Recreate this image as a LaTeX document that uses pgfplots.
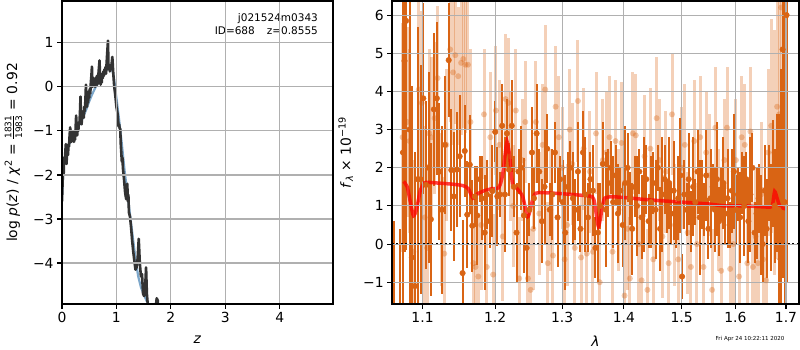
\documentclass[border=0pt]{standalone}
\usepackage{fontspec}
\setmainfont{DejaVu Sans}
\usepackage{pgfplots}
\pgfplotsset{compat=1.18}
\usepackage{pgfplotstable}
\definecolor{dorange}{RGB}{217,100,20}
\definecolor{gridgray}{RGB}{176,176,176}
\definecolor{steel}{RGB}{70,130,180}
\definecolor{dgray}{RGB}{51,51,51}

\pgfplotstableread{
x y e
1.0625 -2.0 2.6
1.0705 -2.6 3.0
1.0745 2.4 6.0
1.0765 4.8 5.0
1.0785 5.85 6.0
1.0830 3.0 5.5
1.0860 -0.35 4.5
1.0900 -1.1 3.5
1.0935 1.7 4.0
1.0975 1.7 3.0
1.1010 3.82 2.5
1.1045 1.55 2.2
1.1080 2.0 2.5
1.1110 0.65 2.0
1.1150 3.53 2.0
1.1190 3.82 2.0
1.1225 1.9 1.8
1.1260 0.9 2.2
1.1300 2.6 1.8
1.1350 4.82 1.5
1.1385 1.94 1.6
1.1420 1.25 1.7
1.1460 1.95 1.5
1.1500 2.3 1.6
1.1540 -0.76 1.4
1.1570 2.44 1.2
1.1605 0.77 1.4
1.1640 2.08 1.3
1.1675 0.48 1.2
1.1710 1.25 0.8
1.1745 0.75 1.3
1.1780 1.7 0.6
1.1810 1.2 1.1
1.1850 0.3 1.5
1.1880 1.3 0.9
1.1920 0.6 0.7
1.1960 1.39 1.2
1.2000 2.94 0.8
1.2030 1.25 1.3
1.2070 1.3 0.6
1.2100 3.1 1.1
1.2140 1.3 1.5
1.2170 2.9 0.9
1.2200 1.95 0.7
1.2240 3.1 1.2
1.2270 1.5 0.8
1.2310 0.3 1.3
1.2340 1.9 0.6
1.2380 2.0 1.1
1.2420 0.75 1.5
1.2460 -0.1 0.9
1.2500 0.9 0.7
1.2540 2.4 1.2
1.2570 1.2 0.8
1.2610 2.9 1.3
1.2650 1.9 0.6
1.2690 0.6 1.1
1.2730 1.5 1.5
1.2770 2.5 0.9
1.2810 0.9 0.7
1.2850 1.3 1.2
1.2890 2.4 0.8
1.2930 0.7 1.3
1.2970 1.7 0.6
1.3010 1.1 1.1
1.3050 0.3 1.5
1.3090 1.5 0.9
1.3130 2.0 0.7
1.3170 1.2 1.2
1.3210 0.9 0.8
1.3250 1.9 1.3
1.3290 0.4 0.6
1.3330 2.4 1.1
1.3370 1.3 1.5
1.3410 0.7 0.9
1.3450 1.7 0.7
1.3490 1.4 1.2
1.3530 -0.1 0.8
1.3570 0.3 1.3
1.3610 1.0 0.6
1.3650 2.1 1.1
1.3700 0.9 1.5
1.3740 1.6 0.9
1.3780 2.0 0.7
1.3820 1.1 1.2
1.3860 1.8 0.8
1.3900 0.8 1.3
1.3940 1.4 0.6
1.3980 0.5 1.1
1.4020 1.6 1.5
1.4060 2.0 0.9
1.4100 1.2 0.7
1.4140 0.4 1.2
1.4180 1.5 0.8
1.4220 1.0 1.3
1.4260 1.9 0.6
1.4300 0.7 1.1
1.4340 1.3 1.5
1.4380 1.7 0.9
1.4420 0.6 0.7
1.4460 1.1 1.2
1.4500 1.6 0.8
1.4540 0.9 1.3
1.4580 2.0 0.6
1.4620 0.4 1.1
1.4660 1.3 1.5
1.4700 1.7 0.9
1.4740 1.0 0.7
1.4780 1.6 1.2
1.4820 0.8 0.8
1.4860 1.4 1.3
1.4900 0.5 0.6
1.4940 1.2 1.1
1.4980 1.8 1.5
1.5010 -0.85 0.6
1.5050 1.3 0.9
1.5090 0.9 0.7
1.5130 1.7 1.2
1.5170 0.6 0.8
1.5210 1.5 1.3
1.5250 1.1 0.6
1.5290 1.9 1.1
1.5330 0.7 1.5
1.5370 1.3 0.9
1.5410 0.9 0.7
1.5450 1.8 1.2
1.5490 0.4 0.8
1.5530 1.2 1.3
1.5570 1.5 0.6
1.5610 0.9 1.1
1.5650 1.7 1.5
1.5690 0.6 0.9
1.5730 1.3 0.7
1.5770 1.6 1.2
1.5810 0.8 0.8
1.5850 1.2 1.3
1.5890 0.5 0.6
1.5930 1.4 1.1
1.5970 1.9 1.5
1.6010 0.9 0.9
1.6050 1.3 0.7
1.6090 0.7 1.2
1.6130 1.6 0.8
1.6170 1.0 1.3
1.6210 1.7 0.7
1.6250 0.6 1.1
1.6290 1.3 1.5
1.6330 2.0 0.9
1.6370 0.3 0.8
1.6410 0.8 1.2
1.6450 1.2 0.9
1.6490 0.5 1.3
1.6530 0.0 1.0
1.6570 1.4 1.2
1.6610 0.4 1.3
1.6650 1.6 1.0
1.6690 0.7 1.4
1.6730 1.85 1.4
1.6770 1.0 1.5
1.6810 1.6 1.8
1.6850 0.9 2.5
1.6890 -0.4 5.0
1.6930 5.1 6.0
1.6970 1.1 6.0
1.7010 6.0 7.0
}\darktab

\pgfplotstableread{
x y e
1.0740 2.8 3.0
1.0800 3.2 2.5
1.0830 2.7 2.4
1.0880 -0.2 2.4
1.0950 4.05 2.6
1.0990 3.7 2.4
1.1030 0.7 2.4
1.1060 -0.1 2.2
1.1090 2.9 2.2
1.1120 2.8 2.1
1.1160 3.3 2.0
1.1200 4.35 1.9
1.1250 0.9 2.0
1.1290 -0.25 2.0
1.1320 2.6 2.0
1.1370 5.1 1.9
1.1410 4.5 1.9
1.1440 4.95 1.8
1.1480 4.4 1.8
1.1520 4.75 1.9
1.1550 4.85 1.8
1.1580 4.7 1.8
1.1615 4.7 1.7
1.1650 3.2 1.9
1.1690 -0.5 1.8
1.1720 -0.6 1.7
1.1760 -0.85 1.6
1.1800 0.5 1.7
1.1840 3.4 1.7
1.1880 -0.6 1.7
1.1930 2.8 1.7
1.1970 -0.8 1.6
1.2010 3.5 1.7
1.2060 2.6 1.7
1.2110 0.2 1.7
1.2150 3.8 1.7
1.2190 3.7 1.7
1.2220 2.3 1.7
1.2260 1.0 1.6
1.2300 3.5 1.6
1.2350 -0.9 1.6
1.2400 2.2 1.6
1.2440 3.2 1.6
1.2480 -0.9 1.6
1.2520 -1.2 1.6
1.2560 0.4 1.6
1.2600 3.2 1.6
1.2650 0.8 1.6
1.2700 2.6 1.6
1.2740 4.05 1.7
1.2780 -0.5 1.6
1.2820 0.9 1.6
1.2860 -0.3 1.6
1.2900 3.6 1.6
1.2950 2.8 1.6
1.3000 2.0 1.6
1.3040 -0.4 1.6
1.3080 0.5 1.6
1.3120 3.0 1.6
1.3160 2.1 1.6
1.3200 -0.1 1.6
1.3250 3.75 1.6
1.3300 -0.35 1.6
1.3340 2.5 1.6
1.3390 -0.25 1.6
1.3440 1.9 1.6
1.3490 -0.2 1.6
1.3540 2.9 1.6
1.3600 -1.0 1.6
1.3650 2.2 1.6
1.3710 2.4 1.6
1.3760 2.8 1.6
1.3810 -0.2 1.6
1.3860 2.7 1.6
1.3910 0.9 1.6
1.3960 2.65 1.6
1.4010 -1.35 1.6
1.4060 0.4 1.6
1.4100 -0.9 1.6
1.4150 2.9 1.6
1.4200 2.85 1.6
1.4250 0.0 1.6
1.4300 -0.95 1.6
1.4350 2.3 1.6
1.4400 -1.2 1.6
1.4450 2.5 1.6
1.4500 -0.4 1.6
1.4560 3.3 1.6
1.4610 2.2 1.6
1.4660 0.2 1.6
1.4720 1.9 1.6
1.4770 -0.5 1.6
1.4830 3.4 1.6
1.4880 0.5 1.6
1.4940 -0.4 1.6
1.5000 2.0 1.6
1.5060 2.6 1.6
1.5110 0.3 1.6
1.5170 -0.6 1.6
1.5230 2.7 1.6
1.5280 0.0 1.6
1.5340 2.8 1.6
1.5400 -0.6 1.6
1.5450 2.4 1.6
1.5510 1.8 1.6
1.5560 -1.2 1.6
1.5620 3.05 1.6
1.5680 0.9 1.6
1.5730 -0.7 1.6
1.5790 2.2 1.6
1.5840 3.05 1.6
1.5900 -0.65 1.6
1.5960 0.0 1.6
1.6010 2.2 1.6
1.6070 -0.85 1.6
1.6120 2.8 1.6
1.6180 2.6 1.6
1.6230 -0.5 1.7
1.6290 2.95 1.7
1.6340 -0.6 1.7
1.6390 0.2 1.8
1.6440 -0.5 1.8
1.6500 1.3 1.9
1.6540 -0.4 1.9
1.6600 -0.95 2.0
1.6640 2.4 2.2
1.6700 3.1 2.8
1.6760 2.4 3.2
1.6820 3.6 4.0
1.6860 3.4 5.0
1.6900 6.2 6.0
}\lighttab

\pgfplotsset{
  myaxis/.style={
    scale only axis, anchor=south west, axis on top,
    grid=major,
    major grid style={gridgray, line width=1.1pt},
    axis line style={line width=1.1pt},
    tick align=outside, major tick length=4.9pt,
    tick style={black, line width=1.1pt},
    xtick pos=lower, ytick pos=left,
    minor tick num=0,
    every tick label/.append style={font=\fontsize{13.9}{16}\selectfont},
    label style={font=\fontsize{13.9}{16}\selectfont},
    xlabel shift=6pt,
  }
}

\begin{document}
\begin{tikzpicture}
\path[use as bounding box] (0pt,0pt) rectangle (800pt,350pt);

\begin{axis}[myaxis, at={(62pt,46pt)}, width=271pt, height=303pt,
  xmin=0, xmax=4.98, ymin=-4.93, ymax=1.95,
  xtick={0,1,2,3,4}, xticklabels={0,1,2,3,4},
  ytick={-4,-3,-2,-1,0,1}, yticklabels={−4,−3,−2,−1,0,1},
  xlabel={\textit{z}}, ylabel shift=4pt,
  ylabel={log \textit{p}(\textit{z}) / \textit{χ}\textsuperscript{2} = $\frac{\mbox{\fontsize{9}{9}\selectfont 1831}}{\mbox{\fontsize{9}{9}\selectfont 1983}}$ = 0.92},
]
\addplot[steel, line width=2.2pt, opacity=0.7] coordinates {
(0,-2.5) (0.02,-2.0) (0.04,-1.7) (0.06,-1.55) (0.1,-1.38) (0.15,-1.25) (0.2,-1.12)
(0.25,-1.0) (0.3,-0.9) (0.35,-0.8) (0.4,-0.65) (0.45,-0.5) (0.5,-0.33) (0.55,-0.18)
(0.6,-0.05) (0.65,0.07) (0.7,0.17) (0.75,0.27) (0.8,0.36) (0.85,0.44) (0.9,0.5)
(0.95,0.25) (1.0,-0.25) (1.05,-0.75) (1.1,-1.3) (1.15,-1.9) (1.2,-2.4) (1.25,-2.9)
(1.3,-3.4) (1.35,-3.9) (1.4,-4.3) (1.45,-4.55) (1.5,-4.7) (1.55,-4.85) (1.6,-4.95) (1.65,-5.1)
};
\addplot[dgray, line width=2.6pt, line join=round] coordinates {
(0,-2.6) (0.01,-2.2) (0.02,-1.9) (0.03,-2.0) (0.04,-1.6) (0.05,-1.75) (0.06,-1.5)
(0.07,-1.3) (0.075,-1.6) (0.085,-1.75) (0.09,-1.45) (0.1,-1.4) (0.11,-1.55) (0.12,-1.3)
(0.13,-1.35) (0.14,-1.1) (0.15,-0.92) (0.16,-1.2) (0.17,-1.25) (0.18,-1.0) (0.19,-1.15)
(0.2,-1.2) (0.21,-1.05) (0.22,-1.25) (0.23,-1.0) (0.24,-1.2) (0.25,-0.95) (0.26,-0.65)
(0.27,-1.0) (0.28,-1.1) (0.29,-0.9) (0.3,-1.0) (0.31,-0.8) (0.32,-0.85) (0.33,-0.6)
(0.34,-0.22) (0.35,-0.75) (0.36,-0.85) (0.37,-0.65) (0.38,-0.7) (0.39,-0.55) (0.4,-0.7)
(0.41,-0.45) (0.42,-0.55) (0.43,-0.3) (0.44,0.05) (0.45,-0.4) (0.46,-0.45) (0.47,-0.3)
(0.48,-0.35) (0.49,-0.1) (0.5,-0.25) (0.51,-0.05) (0.52,-0.15) (0.53,0.1) (0.54,0.25)
(0.55,0.46) (0.56,0.0) (0.57,0.05) (0.58,0.2) (0.59,0.05) (0.6,0.15) (0.61,0.0)
(0.62,0.2) (0.63,0.1) (0.64,0.25) (0.65,0.05) (0.66,0.15) (0.67,0.3) (0.68,0.45)
(0.69,0.6) (0.7,0.15) (0.71,0.05) (0.72,0.2) (0.73,0.1) (0.74,0.3) (0.75,0.2)
(0.76,0.35) (0.77,0.25) (0.78,0.4) (0.79,0.3) (0.8,0.45) (0.81,0.3) (0.82,0.55)
(0.83,0.75) (0.845,1.05) (0.855,0.4) (0.87,0.5) (0.88,0.35) (0.89,0.45) (0.9,0.4)
(0.91,0.5) (0.925,0.68) (0.94,0.35) (0.96,0.0) (0.98,-0.2) (1.0,-0.45) (1.02,-0.6)
(1.04,-0.9) (1.05,-0.85) (1.06,-0.95) (1.07,-0.95) (1.08,-1.3) (1.1,-1.7) (1.11,-1.6)
(1.12,-1.85) (1.14,-2.1) (1.16,-2.4) (1.18,-2.55) (1.19,-2.35) (1.2,-2.2) (1.21,-2.6)
(1.22,-2.45) (1.23,-2.85) (1.25,-2.95) (1.27,-3.2) (1.29,-3.5) (1.31,-3.75) (1.33,-3.95)
(1.35,-4.15) (1.37,-4.1) (1.39,-3.9) (1.41,-3.45) (1.43,-4.0) (1.45,-4.3) (1.47,-4.25)
(1.49,-4.7) (1.51,-4.75) (1.53,-4.5) (1.545,-4.1) (1.56,-4.7) (1.58,-5.0) (1.6,-5.2)
(1.7,-5.3) (1.74,-4.8) (1.76,-4.85) (1.78,-5.3)
};
\node[anchor=north east, align=right, inner sep=0pt, font=\fontsize{10.5}{13.5}\selectfont]
  at (rel axis cs:0.945,0.96) {j021524m0343\\ID=688\hspace{12pt}z=0.8555};
\end{axis}

\begin{axis}[myaxis, at={(392pt,46pt)}, width=407pt, height=303pt,
  xmode=log, xmin=1.0605, xmax=1.7266, ymin=-1.57, ymax=6.37,
  xtick={1.1,1.2,1.3,1.4,1.5,1.6,1.7}, xticklabels={1.1,1.2,1.3,1.4,1.5,1.6,1.7},
  minor xtick={},
  ytick={-1,0,1,2,3,4,5,6}, yticklabels={−1,0,1,2,3,4,5,6},
  xlabel={\textit{λ}}, ylabel shift=3pt,
  ylabel={\textit{f}\textsubscript{\textit{λ}} × 10\textsuperscript{−19}},
]
\addplot[only marks, mark=*, mark size=3pt, dorange, opacity=0.3,
  mark options={draw opacity=0, fill opacity=0.35},
  error bars/.cd, y dir=both, y explicit, error mark=none,
  error bar style={line width=3pt, dorange, draw opacity=0.3}]
  table[x=x, y=y, y error=e] {\lighttab};
\addplot[only marks, mark=*, mark size=2.8pt, dorange,
  error bars/.cd, y dir=both, y explicit, error mark=none,
  error bar style={line width=2pt, dorange}]
  table[x=x, y=y, y error=e] {\darktab};
\addplot[black, line width=1.8pt, dash pattern=on 1.8pt off 2.6pt] coordinates {(1.0605,0) (1.7266,0)};
\addplot[red, line width=3.5pt, opacity=0.75, smooth, tension=0.4] coordinates {
(1.0753,1.64) (1.08,1.5) (1.085,1.0) (1.0882,0.74) (1.092,0.9) (1.097,1.4) (1.102,1.6)
(1.105,1.62) (1.12,1.6) (1.14,1.57) (1.155,1.53) (1.162,1.45) (1.1685,1.2) (1.175,1.32)
(1.185,1.4) (1.195,1.45) (1.205,1.48) (1.21,1.75) (1.214,2.3) (1.2171,2.69) (1.221,2.3)
(1.225,1.6) (1.232,1.45) (1.24,1.25) (1.2478,0.72) (1.254,1.1) (1.258,1.3) (1.265,1.35)
(1.3,1.32) (1.33,1.28) (1.348,1.24) (1.352,1.05) (1.3579,0.46) (1.364,0.95) (1.368,1.2)
(1.38,1.24) (1.4,1.22) (1.45,1.15) (1.5,1.1) (1.55,1.05) (1.58,1.0) (1.62,1.0)
(1.668,0.97) (1.673,1.05) (1.677,1.38) (1.682,1.2) (1.688,0.98) (1.70,0.92)
};
\end{axis}

\node[anchor=east, font=\fontsize{5.5}{6}\selectfont] at (788pt,11pt) {Fri Apr 24 10:22:11 2020};
\end{tikzpicture}
\end{document}
